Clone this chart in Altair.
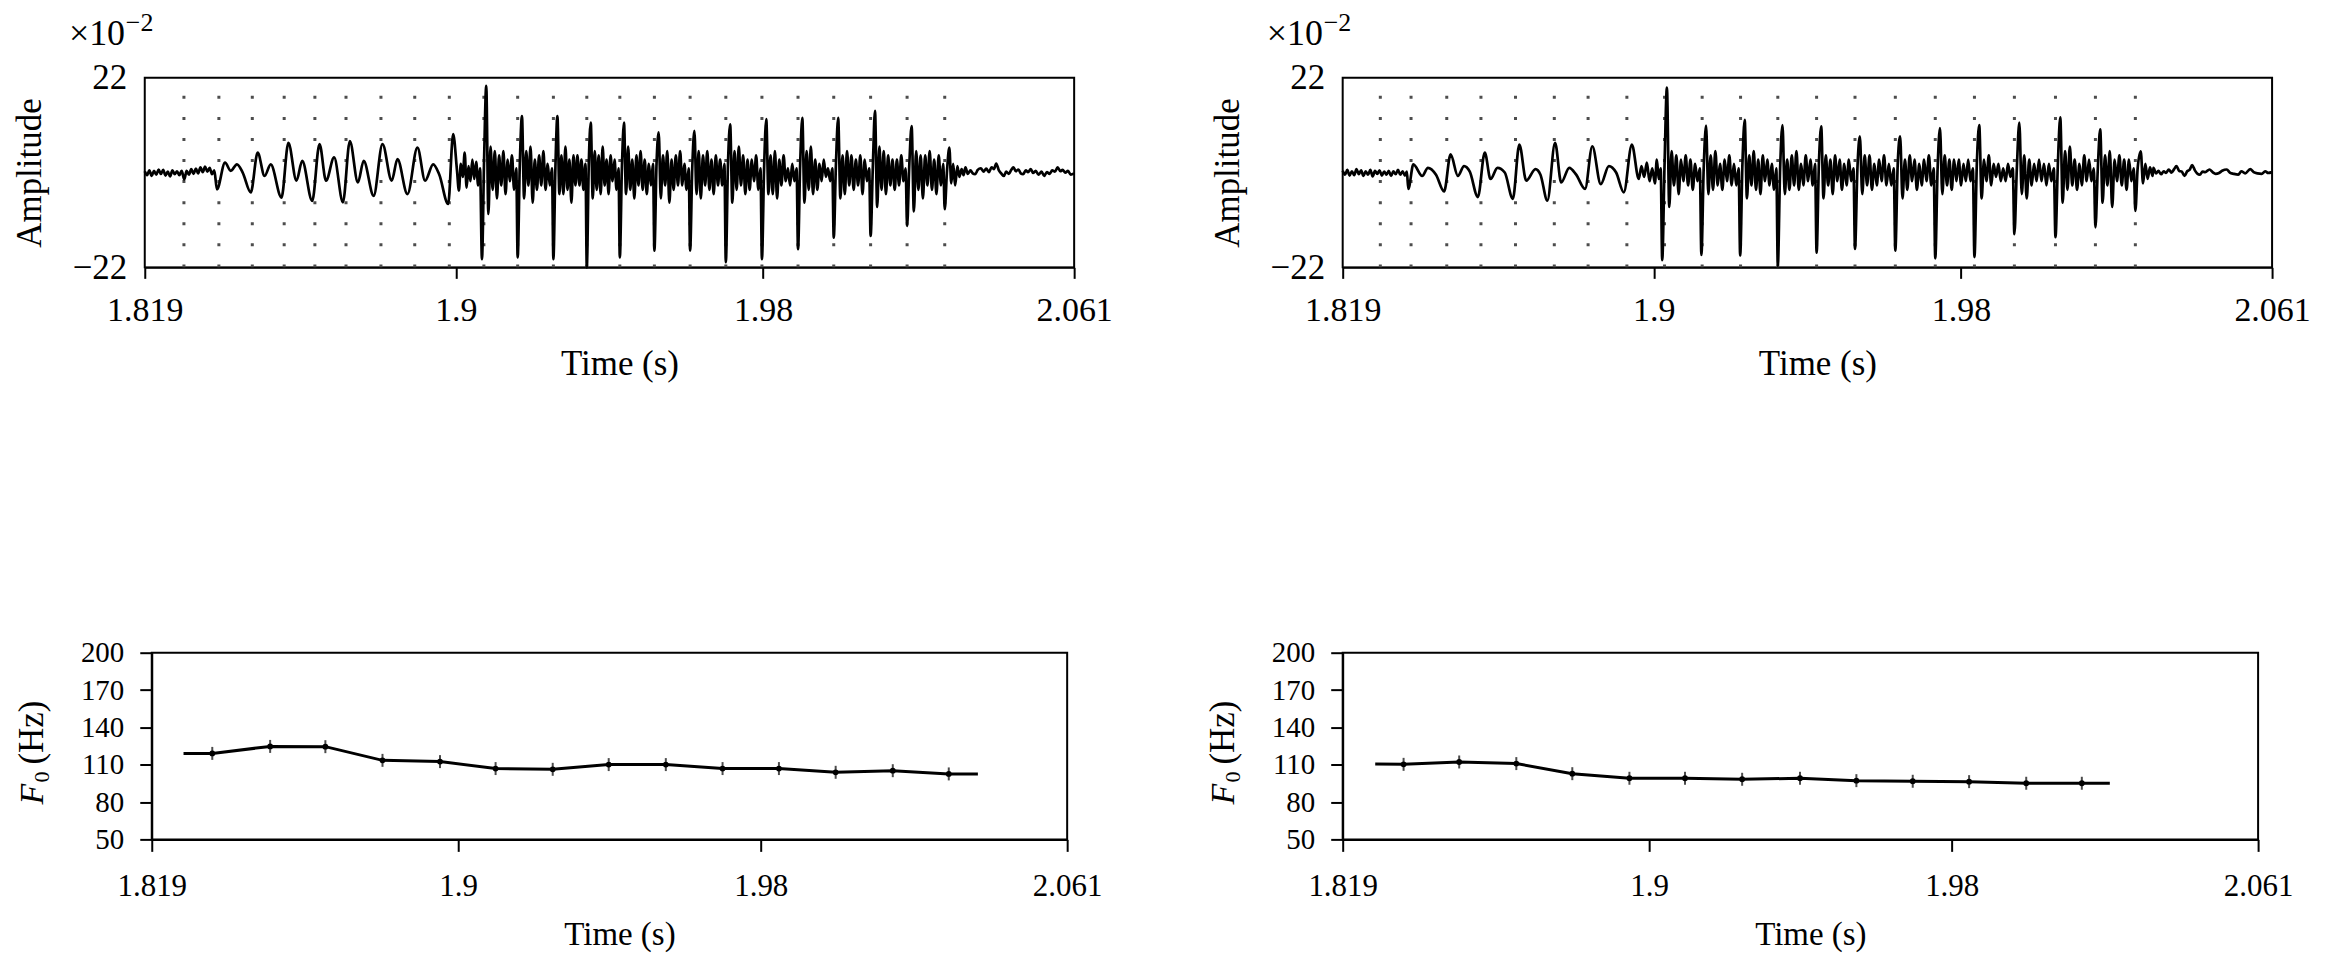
import altair as alt
import pandas as pd

FONT = "Liberation Serif"
X_DOMAIN = [1.819, 2.061]
X_TICKS = [1.819, 1.9, 1.98, 2.061]
X_TICK_LABELS = ["1.819", "1.9", "1.98", "2.061"]
AMP_TICKS = [-22, 22]
F0_TICKS = [50, 80, 110, 140, 170, 200]

# ---------------- pitch marks (dotted vertical lines) ----------------
LEFT_MARKS = [1.8292, 1.8383, 1.8470, 1.8553, 1.8633, 1.8714, 1.8805, 1.8893, 1.8983,
              1.9073, 1.9161, 1.9254, 1.9341, 1.9427, 1.9517, 1.9610, 1.9703, 1.9797,
              1.9891, 1.9984, 2.0080, 2.0175, 2.0273]
RIGHT_MARKS = [1.8288, 1.8368, 1.8461, 1.8550, 1.8640, 1.8741, 1.8829, 1.8930, 1.9028,
               1.9126, 1.9226, 1.9323, 1.9424, 1.9524, 1.9629, 1.9733, 1.9835, 1.9939,
               2.0046, 2.0150, 2.0254]

# ---------------- waveform, left panel (amplitude x1e-2) ----------------
LEFT_PRE = [
    (1.8190, 0.3), (1.8196, -0.6), (1.8202, 0.5), (1.8208, -0.8), (1.8214, 0.4), (1.8220, -0.5),
    (1.8226, 0.7), (1.8232, -0.3), (1.8238, 0.6), (1.8244, -0.7), (1.8250, 0.2), (1.8256, -0.9),
    (1.8262, 0.5), (1.8268, -0.4), (1.8274, 0.3), (1.8280, -0.6), (1.8286, 0.4), (1.8293, -1.6),
    (1.8299, 0.4), (1.8305, -0.5), (1.8311, 0.8), (1.8317, -0.3), (1.8323, 0.9), (1.8329, -0.2),
    (1.8335, 1.2), (1.8341, 0.1), (1.8347, 1.4), (1.8353, 0.2), (1.8359, 1.1), (1.8365, -0.4),
    (1.8371, 0.5), (1.8378, -3.9),
    (1.8399, 2.3), (1.8414, 0.4), (1.8430, 1.9), (1.8445, 0.0), (1.8466, -4.6), (1.8484, 4.6),
    (1.8502, -0.8), (1.8518, 1.9), (1.8546, -5.8), (1.8564, 6.9), (1.8585, -1.9), (1.8600, 2.7),
    (1.8626, -6.6), (1.8645, 6.6), (1.8662, -1.9), (1.8683, 3.5), (1.8706, -6.9), (1.8724, 7.3),
    (1.8745, -2.3), (1.8760, 2.7), (1.8786, -5.4), (1.8809, 6.6), (1.8833, -1.9), (1.8848, 3.1),
    (1.8874, -5.0), (1.8900, 5.8), (1.8920, -1.9), (1.8941, 1.9), (1.8957, -0.5), (1.8980, -7.3),
    (1.8993, 8.9), (1.9003, 0.5),
    (1.9008, -4.2), (1.9013, 2.0), (1.9018, -1.0), (1.9023, 4.6), (1.9028, -3.5), (1.9033, 1.5),
    (1.9038, -2.0), (1.9043, 3.0), (1.9048, -1.5), (1.9053, 2.5), (1.9058, -3.0), (1.9063, 1.0),
]
LEFT_SPIKES = [1.9068, 1.9161, 1.9254, 1.9341, 1.9427, 1.9517, 1.9610, 1.9703, 1.9797,
               1.9891, 1.9984, 2.0080, 2.0175, 2.0273]
# reading positions inside each pitch period (fraction of the period)
FRACS = [0, .06, .12, .18, .24, .30, .36, .42, .48, .54, .60, .66, .72, .78, .84, .90, .96]
LEFT_ROWS = [
    [-20.1, 3, 20.1, -9.6, 6, -4, 5, -6, 4, -3, 5, -5, 3, -2, 4, -4, 1],
    [-19.7, 2, 13.1, -6, 5, -3, 6, -7, 3, -4, 4, -3, 5, -4, 2, -3, 1],
    [-20.1, 1, 13.1, -5, 4, -5, 6, -4, 3, -7, 4, -3, 4, -3, 3, -4, 2],
    [-22.0, 2, 11.6, -6, 5, -4, 4, -5, 6, -3, 3, -5, 4, -2, 3, -4, 1],
    [-19.7, 1, 11.6, -5, 6, -4, 3, -6, 4, -3, 5, -4, 3, -5, 2, -3, 2],
    [-18.1, 2, 9.3, -6, 4, -3, 5, -7, 3, -4, 4, -3, 5, -3, 2, -4, 1],
    [-18.1, 1, 9.7, -5, 5, -6, 4, -3, 5, -4, 3, -5, 4, -3, 3, -3, 2],
    [-20.8, 2, 11.2, -7, 5, -4, 6, -3, 4, -5, 3, -4, 3, -2, 4, -4, 1],
    [-20.1, 1, 12.4, -5, 4, -5, 5, -6, 3, -3, 4, -2, 1, -3, 2, -2, 1],
    [-17.8, 2, 12.7, -7, 5, -4, 6, -5, 3, -4, 2, -2, 3, -1, 1, -2, 1],
    [-15.1, 2, 12.7, -6, 4, -5, 5, -3, 4, -4, 3, -3, 4, -5, 3, -2, 1],
    [-14.7, 1, 14.3, -8, 6, -4, 5, -5, 4, -3, 3, -4, 3, -3, 4, -2, 1],
    [-12.4, 2, 10.8, -9, 5, -4, 4, -6, 4, -3, 5, -4, 3, -5, 4, -3, 2],
]
LEFT_TAIL = [
    (2.0273, -8.5), (2.0279, 0.5), (2.0285, 5.8), (2.0290, -2.5), (2.0295, 2.0), (2.0300, -3.0),
    (2.0306, 1.5), (2.0311, -1.0), (2.0317, 0.8), (2.0322, -0.6), (2.0327, 1.2), (2.0333, -0.3),
    (2.0340, 0.5), (2.0346, -0.2), (2.0352, -0.4), (2.0359, 0.6), (2.0367, 1.0), (2.0374, 0.2),
    (2.0381, 0.9), (2.0388, 0.1), (2.0395, 1.2), (2.0401, 0.8), (2.0407, 2.1), (2.0414, 0.5),
    (2.0421, -0.3), (2.0427, -0.8), (2.0433, 0.2), (2.0440, -0.3), (2.0446, 0.6), (2.0452, 1.2),
    (2.0458, 0.3), (2.0465, 0.7), (2.0471, -0.2), (2.0477, -0.4), (2.0484, 0.5), (2.0490, 0.1),
    (2.0497, 0.8), (2.0503, -0.1), (2.0510, 0.4), (2.0517, -0.5), (2.0525, 0.2), (2.0532, -0.8),
    (2.0539, 0.1), (2.0546, -0.3), (2.0553, 0.5), (2.0560, 0.2), (2.0567, 1.2), (2.0574, 0.3),
    (2.0580, 0.6), (2.0587, 0.0), (2.0594, 0.4), (2.0601, -0.5), (2.0610, -0.2),
]

# ---------------- waveform, right panel ----------------
RIGHT_PRE = [
    (1.8190, 0.4), (1.8196, -0.5), (1.8202, 0.6), (1.8208, -0.7), (1.8214, 0.3), (1.8220, -0.6),
    (1.8226, 0.8), (1.8232, -0.4), (1.8238, 0.5), (1.8244, -0.8), (1.8250, 0.3), (1.8256, -0.5),
    (1.8262, 0.6), (1.8268, -0.9), (1.8274, 0.4), (1.8280, -0.3), (1.8286, 0.5), (1.8292, -0.7),
    (1.8298, 0.2), (1.8304, -0.5), (1.8310, 0.4), (1.8316, -0.8), (1.8322, 0.3), (1.8328, -0.4),
    (1.8334, 0.6), (1.8340, -0.5), (1.8346, 0.3), (1.8352, -0.7), (1.8357, 0.2),
    (1.8361, -3.8), (1.8374, 1.9), (1.8397, -0.8), (1.8412, 1.1), (1.8433, -0.5), (1.8454, -4.4),
    (1.8471, 4.2), (1.8490, -0.8), (1.8506, 1.5), (1.8521, 0.2), (1.8542, -5.7), (1.8560, 4.6),
    (1.8575, -1.5), (1.8593, 1.1), (1.8612, 0.0), (1.8633, -6.1), (1.8650, 6.5), (1.8668, -1.9),
    (1.8692, 0.8), (1.8705, -0.5), (1.8723, -6.5), (1.8743, 6.9), (1.8759, -2.3), (1.8780, 1.1),
    (1.8798, -0.5), (1.8821, -3.8), (1.8840, 6.1), (1.8862, -2.7), (1.8883, 1.5), (1.8902, 0.0),
    (1.8922, -4.6), (1.8943, 6.5), (1.8961, -1.5),
    (1.8968, 1.5), (1.8975, -1.0), (1.8982, 2.3), (1.8989, -2.0), (1.8996, 1.0), (1.9003, -2.5),
    (1.9008, 3.0), (1.9013, -1.5), (1.9018, 1.0),
]
RIGHT_SPIKES = [1.9022, 1.9124, 1.9225, 1.9323, 1.9424, 1.9524, 1.9629, 1.9733, 1.9835,
                1.9939, 2.0046, 2.0150, 2.0254]
RIGHT_ROWS = [
    [-20.3, 2, 19.7, -8, 5, -3, 4, -5, 3, -2, 4, -3, 3, -4, 2, -2, 1],
    [-19.1, 1, 10.9, -5, 4, -4, 5, -3, 2, -4, 3, -2, 4, -3, 2, -3, 1],
    [-19.3, 2, 12.2, -6, 4, -3, 5, -4, 3, -5, 4, -2, 3, -3, 2, -4, 1],
    [-21.6, 1, 11.0, -5, 3, -4, 4, -3, 5, -4, 2, -3, 4, -2, 3, -3, 2],
    [-18.6, 2, 10.7, -6, 4, -3, 3, -5, 4, -2, 3, -4, 2, -3, 3, -2, 1],
    [-17.7, 1, 8.4, -5, 4, -3, 4, -4, 2, -3, 3, -2, 4, -3, 2, -3, 1],
    [-18.1, 2, 8.4, -6, 3, -4, 4, -2, 3, -4, 2, -3, 3, -2, 4, -3, 1],
    [-19.9, 1, 10.3, -5, 4, -3, 3, -4, 3, -2, 3, -3, 2, -2, 3, -2, 1],
    [-19.6, 2, 11.0, -6, 3, -2, 4, -3, 2, -1, 2, -2, 1, -2, 2, -1, 1],
    [-14.3, 1, 11.6, -5, 4, -6, 3, -3, 2, -2, 3, -2, 2, -3, 2, -2, 1],
    [-15.0, 2, 12.8, -7, 5, -4, 6, -3, 3, -4, 2, -3, 4, -2, 3, -2, 1],
    [-12.7, 1, 10.0, -7, 4, -3, 5, -8, 3, -2, 4, -3, 3, -4, 3, -2, 1],
]
RIGHT_TAIL = [
    (2.0254, -8.9), (2.0260, 1.0), (2.0268, 4.9), (2.0274, -2.5), (2.0280, 2.0), (2.0286, -1.5),
    (2.0292, 1.2), (2.0299, -0.8), (2.0301, 1.1), (2.0308, -0.2), (2.0314, 0.4), (2.0321, -0.4),
    (2.0328, 0.3), (2.0334, -0.1), (2.0341, 0.7), (2.0348, 0.0), (2.0355, 0.8), (2.0361, 1.5),
    (2.0368, 0.4), (2.0375, 0.2), (2.0382, -0.8), (2.0389, 0.3), (2.0395, 0.6), (2.0402, 1.7),
    (2.0409, 0.5), (2.0415, -0.2), (2.0422, -0.5), (2.0429, 0.2), (2.0436, 0.1), (2.0447, 0.7),
    (2.0455, 0.1), (2.0463, -0.3), (2.0472, -0.1), (2.0480, 0.4), (2.0492, 0.7), (2.0500, 0.0),
    (2.0510, -0.3), (2.0522, -0.5), (2.0530, 0.3), (2.0540, -0.2), (2.0553, 0.8), (2.0562, 0.1),
    (2.0572, -0.2), (2.0583, -0.3), (2.0592, 0.3), (2.0600, -0.1), (2.0610, 0.1),
]

# ---------------- F0 contours ----------------
LEFT_F0_T = [1.8274, 1.8350, 1.8503, 1.8649, 1.8800, 1.8952, 1.9099, 1.9250, 1.9398,
             1.9549, 1.9699, 1.9848, 1.9998, 2.0149, 2.0297, 2.0374]
LEFT_F0 = [119.1, 119.1, 124.7, 124.5, 113.5, 112.5, 106.9, 106.3, 110.1,
           110.1, 106.9, 106.9, 103.9, 105.2, 102.6, 102.6]
RIGHT_F0_T = [1.8276, 1.8351, 1.8498, 1.8649, 1.8797, 1.8948, 1.9095, 1.9246, 1.9399,
              1.9548, 1.9697, 1.9846, 1.9997, 2.0144, 2.0218]
RIGHT_F0 = [110.6, 110.3, 112.2, 110.9, 102.8, 99.1, 99.1, 98.3, 99.1,
            97.2, 96.7, 96.4, 95.1, 95.1, 95.1]


def build_wave(pre, spikes, rows, tail):
    pts = list(pre)
    for k, row in enumerate(rows):
        p0, p1 = spikes[k], spikes[k + 1]
        for f, a in zip(FRACS, row):
            pts.append((p0 + f * (p1 - p0), a))
    pts += tail
    return pd.DataFrame(pts, columns=["t", "a"])


TOP_W, TOP_H = 931, 190
BOT_W, BOT_H = 917, 187

xscale = alt.Scale(domain=X_DOMAIN, nice=False, zero=False)
X_LABEL_EXPR = "[" + ",".join("'%s'" % s for s in X_TICK_LABELS) + "][indexof([" + \
    ",".join(str(v) for v in X_TICKS) + "], datum.value)]"


def x_axis(w, tick, pad, font, title_font, title_y):
    return alt.Axis(values=X_TICKS, labelExpr=X_LABEL_EXPR, title="Time (s)",
                    tickSize=tick, labelPadding=pad, labelBaseline="alphabetic",
                    labelFontSize=font, labelFlush=False, labelOverlap=False,
                    titleFontSize=title_font, titleX=w / 2 + 10, titleY=title_y,
                    titleBaseline="alphabetic", titleAlign="center")


def wave_panel(df, marks):
    mdf = pd.DataFrame({"t": marks})
    rules = alt.Chart(mdf).mark_rule(color="#4d4d4d", strokeWidth=3,
                                     strokeDash=[3, 18.1]).encode(
        x=alt.X("t:Q", scale=xscale), y=alt.value(TOP_H), y2=alt.value(0))
    line = alt.Chart(df).mark_line(color="black", strokeWidth=2.7,
                                   interpolate="monotone").encode(
        x=alt.X("t:Q", scale=xscale, axis=x_axis(TOP_W, 11, 42, 34, 35, 107)),
        y=alt.Y("a:Q", scale=alt.Scale(domain=[-22, 22], nice=False),
                axis=alt.Axis(values=AMP_TICKS, ticks=False, domain=False,
                              labelExpr="datum.value > 0 ? '22' : '\u221222'",
                              labelPadding=18, labelFontSize=35,
                              title="Amplitude", titleFontSize=35,
                              titleX=-104, titleY=TOP_H / 2, titleAngle=270,
                              titleBaseline="alphabetic", titleAlign="center")))
    lab = pd.DataFrame({"s": ["\u00d710"], "e": ["\u22122"]})
    base_txt = alt.Chart(lab).mark_text(font=FONT, fontSize=36, align="left",
                                        baseline="alphabetic", color="black").encode(
        text="s:N", x=alt.value(-76), y=alt.value(-33))
    exp_txt = alt.Chart(lab).mark_text(font=FONT, fontSize=26, align="left",
                                       baseline="alphabetic", color="black").encode(
        text="e:N", x=alt.value(-19), y=alt.value(-47))
    return alt.layer(rules, line, base_txt, exp_txt).properties(width=TOP_W, height=TOP_H)


def f0_panel(ts, vs):
    df = pd.DataFrame({"t": ts, "f": vs})
    y = alt.Y("f:Q", scale=alt.Scale(domain=[50, 200], nice=False, zero=False),
              axis=alt.Axis(values=F0_TICKS, tickSize=12, labelPadding=16,
                            labelFontSize=29, title=None))
    x = alt.X("t:Q", scale=xscale, axis=x_axis(BOT_W, 12, 44, 31, 33, 105))
    line = alt.Chart(df).mark_line(color="black", strokeWidth=3).encode(x=x, y=y)
    inner = df.iloc[1:-1]
    pts = alt.Chart(inner).mark_point(filled=True, shape="circle", size=34,
                                      color="black", opacity=1).encode(x=x, y=y)
    ticks = alt.Chart(inner).mark_tick(orient="vertical", size=13, thickness=2,
                                       color="black").encode(x=x, y=y)
    lab = pd.DataFrame({"f": ["F"], "s": ["0"], "u": ["(Hz)"]})
    t_f = alt.Chart(lab).mark_text(font=FONT, fontSize=34, fontStyle="italic", angle=270,
                                   align="left", baseline="alphabetic", color="black").encode(
        text="f:N", x=alt.value(-109), y=alt.value(152))
    t_s = alt.Chart(lab).mark_text(font=FONT, fontSize=22, angle=270, align="left",
                                   baseline="alphabetic", color="black").encode(
        text="s:N", x=alt.value(-103), y=alt.value(130))
    t_u = alt.Chart(lab).mark_text(font=FONT, fontSize=35, angle=270, align="left",
                                   baseline="alphabetic", color="black").encode(
        text="u:N", x=alt.value(-109), y=alt.value(112))
    return alt.layer(line, ticks, pts, t_f, t_s, t_u).properties(width=BOT_W, height=BOT_H)


wave_left = build_wave(LEFT_PRE, LEFT_SPIKES, LEFT_ROWS, LEFT_TAIL)
wave_right = build_wave(RIGHT_PRE, RIGHT_SPIKES, RIGHT_ROWS, RIGHT_TAIL)

chart = alt.concat(
    wave_panel(wave_left, LEFT_MARKS), wave_panel(wave_right, RIGHT_MARKS),
    f0_panel(LEFT_F0_T, LEFT_F0), f0_panel(RIGHT_F0_T, RIGHT_F0),
    columns=2, spacing={"row": 386, "column": 269}, bounds="flush", center=True,
).properties(
    padding={"left": 4, "top": 0, "right": 5, "bottom": 5}
).configure_view(stroke="black", strokeWidth=2).configure_axis(
    labelFont=FONT, titleFont=FONT, labelColor="black", titleColor="black",
    domainColor="black", tickColor="black", domainWidth=2, tickWidth=2, grid=False,
    titleFontWeight="normal"
)

chart.save("out.html", embed_options={"renderer": "svg", "actions": False})
